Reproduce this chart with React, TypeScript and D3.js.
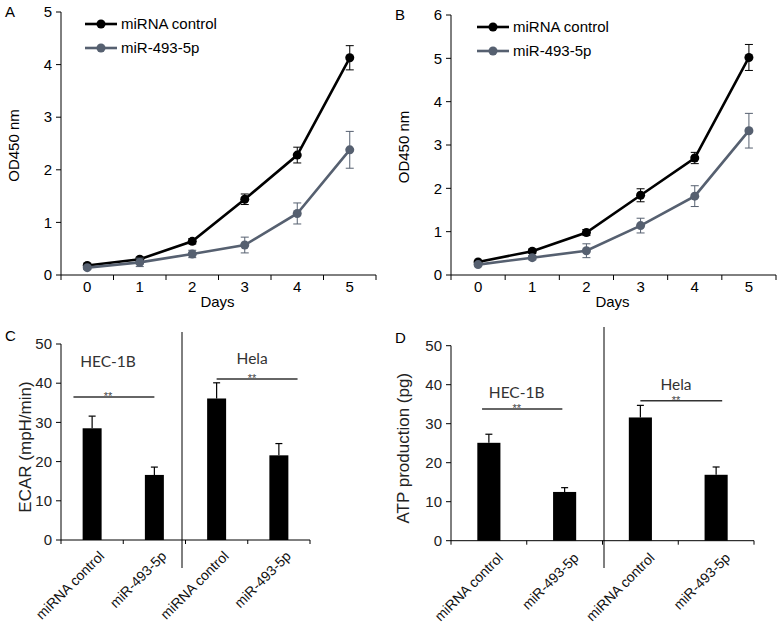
import * as d3 from 'd3'

// growth curves (OD450), days 0..5
const days = [0, 1, 2, 3, 4, 5]
const seriesNames = ['miRNA control', 'miR-493-5p']
const seriesColors = ['#000000', '#566070']

const aControl = [0.18, 0.3, 0.64, 1.44, 2.28, 4.13]
const aControlErr = [0.03, 0.04, 0.05, 0.1, 0.15, 0.23]
const aMir = [0.14, 0.24, 0.4, 0.57, 1.17, 2.38]
const aMirErr = [0.03, 0.08, 0.07, 0.15, 0.2, 0.35]

const bControl = [0.3, 0.55, 0.98, 1.84, 2.7, 5.02]
const bControlErr = [0.03, 0.05, 0.07, 0.15, 0.13, 0.3]
const bMir = [0.24, 0.4, 0.56, 1.14, 1.82, 3.33]
const bMirErr = [0.03, 0.05, 0.16, 0.17, 0.24, 0.4]

// bar panels
const barLabels = ['miRNA control', 'miR-493-5p', 'miRNA control', 'miR-493-5p']
const cellLines = ['HEC-1B', 'Hela']

const cValues = [28.5, 16.6, 36.1, 21.6]
const cErr = [3.1, 2.0, 4.0, 3.0]
const dValues = [25.1, 12.5, 31.6, 16.9]
const dErr = [2.2, 1.1, 3.1, 2.0]

const cTicks = [0, 10, 20, 30, 40, 50]
const dTicks = [0, 10, 20, 30, 40, 50]

// significance bars: bar indices, offsets in steps, y in data units, label position
const cSig = [
  { from: 0, to: 1, dx0: -0.3, dx1: 0, y: 36.5, labelPos: 0.755, labelY: 44.1 },
  { from: 2, to: 3, dx0: 0, dx1: 0.3, y: 41.1, labelPos: 3.07, labelY: 44.9 },
]
const dSig = [
  { from: 0, to: 1, dx0: -0.09, dx1: -0.03, y: 33.8, labelPos: 0.867, labelY: 36.6 },
  { from: 2, to: 3, dx0: 0, dx1: 0.08, y: 35.9, labelPos: 2.97, labelY: 38.6 },
]

const FONT = '"Liberation Sans", Arial, sans-serif'
const LABEL_FONT = 'Lato, "Open Sans", sans-serif'

function LinePanel({ letter, left, right, top, bottom, yMax, series, errs, legendX }: any) {
  const x = d3.scaleBand<number>().domain(days).range([left, right]).padding(0)
  const y = d3.scaleLinear().domain([0, yMax]).range([bottom, top])
  const cx = (d: number) => (x(d) as number) + x.bandwidth() / 2
  const line = d3.line<number>().x((_, i) => cx(days[i])).y(v => y(v))
  const bounds = d3.range(days.length + 1).map(i => left + i * x.step())
  const yTicks = d3.range(0, yMax + 1)
  const mid = (left + right) / 2

  return (
    <g>
      <text x={left - 56} y={top + 5} fontSize={15} fontFamily={FONT}>{letter}</text>
      {/* y axis */}
      <line x1={left} x2={left} y1={y(0)} y2={y(yMax)} stroke="#000" />
      {yTicks.map(t => (
        <g key={t}>
          <line x1={left - 5} x2={left} y1={y(t)} y2={y(t)} stroke="#000" />
          <text x={left - 9} y={y(t)} dy="0.35em" textAnchor="end" fontSize={15} fontFamily={FONT}>{t}</text>
        </g>
      ))}
      <text transform={`translate(${left - 47},${(top + bottom) / 2 + 2}) rotate(-90)`} textAnchor="middle"
        dy="0.35em" fontSize={15} fontFamily={FONT}>OD450 nm</text>
      {/* x axis */}
      <line x1={left} x2={right} y1={y(0)} y2={y(0)} stroke="#000" />
      {bounds.map((b, i) => (
        <line key={i} x1={b} x2={b} y1={y(0)} y2={y(0) + 5} stroke="#000" />
      ))}
      {days.map(d => (
        <text key={d} x={cx(d)} y={y(0) + 17} textAnchor="middle" fontSize={15} fontFamily={FONT}>{d}</text>
      ))}
      <text x={mid - 1} y={y(0) + 32} textAnchor="middle" fontSize={15} fontFamily={FONT}>Days</text>
      {/* series */}
      {series.map((vals: number[], si: number) => (
        <g key={si}>
          {vals.map((v, i) => {
            const e = errs[si][i]
            const px = cx(days[i])
            return (
              <g key={i} stroke={seriesColors[si]} strokeWidth={1}>
                <line x1={px} x2={px} y1={y(v - e)} y2={y(v + e)} />
                <line x1={px - 4} x2={px + 4} y1={y(v - e)} y2={y(v - e)} />
                <line x1={px - 4} x2={px + 4} y1={y(v + e)} y2={y(v + e)} />
              </g>
            )
          })}
          <path d={line(vals) as string} fill="none" stroke={seriesColors[si]} strokeWidth={2.6} />
          {vals.map((v, i) => (
            <circle key={i} cx={cx(days[i])} cy={y(v)} r={4.5} fill={seriesColors[si]} />
          ))}
        </g>
      ))}
      {/* legend */}
      {seriesNames.map((n, si) => {
        const ly = top + 12 + si * 24
        return (
          <g key={n}>
            <line x1={legendX} x2={legendX + 32} y1={ly} y2={ly} stroke={seriesColors[si]} strokeWidth={2.6} />
            <circle cx={legendX + 16} cy={ly} r={4.5} fill={seriesColors[si]} />
            <text x={legendX + 36} y={ly} dy="0.35em" fontSize={15} fontFamily={FONT}>{n}</text>
          </g>
        )
      })}
    </g>
  )
}

function BarPanel({ letter, left, right, top, bottom, values, errs, ticks, yLabel, sig, divider, yLabelX, labelDx, labelDy }: any) {
  const idx = values.map((_: number, i: number) => i)
  const x = d3.scaleBand<number>().domain(idx).range([left, right]).padding(0)
  const y = d3.scaleLinear().domain([0, 50]).range([bottom, top])
  const step = x.step()
  const bw = step * 0.305
  const cx = (i: number) => (x(i) as number) + step / 2
  const bounds = d3.range(idx.length + 1).map(i => left + i * step)
  const divX = left + 2 * step + divider.dx

  return (
    <g>
      <text x={left - 56} y={top - 3} fontSize={15} fontFamily={FONT}>{letter}</text>
      {/* y axis */}
      <line x1={left} x2={left} y1={y(0)} y2={y(50)} stroke="#000" />
      {ticks.map((t: number) => (
        <g key={t}>
          <line x1={left - 5} x2={left} y1={y(t)} y2={y(t)} stroke="#000" />
          <text x={left - 9} y={y(t)} dy="0.35em" textAnchor="end" fontSize={15} fontFamily={FONT} fill="#222">{t}</text>
        </g>
      ))}
      <text transform={`translate(${yLabelX},${(top + bottom) / 2 + 5}) rotate(-90)`} textAnchor="middle"
        dy="0.35em" fontSize={17} fontFamily={FONT} fill="#222">{yLabel}</text>
      {/* x axis */}
      <line x1={left} x2={right} y1={y(0)} y2={y(0)} stroke="#000" />
      {bounds.map((b, i) => (
        <line key={i} x1={b} x2={b} y1={y(0)} y2={y(0) + 4} stroke="#000" />
      ))}
      {/* divider */}
      <line x1={divX} x2={divX} y1={divider.y1} y2={divider.y2} stroke="#000" />
      {/* bars */}
      {values.map((v: number, i: number) => (
        <g key={i}>
          <rect x={cx(i) - bw / 2} y={y(v)} width={bw} height={y(0) - y(v)} fill="#000" />
          <line x1={cx(i)} x2={cx(i)} y1={y(v)} y2={y(v + errs[i])} stroke="#000" strokeWidth={1.2} />
          <line x1={cx(i) - 3.5} x2={cx(i) + 3.5} y1={y(v + errs[i])} y2={y(v + errs[i])} stroke="#000" strokeWidth={1.2} />
          <text transform={`translate(${cx(i) + labelDx},${y(0) + labelDy}) rotate(-45)`} textAnchor="end"
            fontSize={14} fontFamily={FONT} fill="#111">{barLabels[i]}</text>
        </g>
      ))}
      {/* significance */}
      {sig.map((s: any, k: number) => {
        const lx = left + s.labelPos * step
        return (
          <g key={k}>
            <line x1={cx(s.from) + s.dx0 * step} x2={cx(s.to) + s.dx1 * step} y1={y(s.y)} y2={y(s.y)}
              stroke="#333" strokeWidth={1.5} />
            <text x={lx} y={y(s.y) + 3} textAnchor="middle" fontSize={11} fontFamily={FONT} fill="#444">**</text>
            <text x={lx} y={y(s.labelY)} textAnchor="middle" fontSize={15.5} fontFamily={LABEL_FONT} fill="#333">{cellLines[k]}</text>
          </g>
        )
      })}
    </g>
  )
}

export default function App() {
  return (
    <svg width={782} height={627} viewBox="0 0 782 627"
      style={{ position: 'absolute', left: 0, top: 0, background: '#fff' }}>
      <rect width={782} height={627} fill="#fff" />
      <LinePanel letter="A" left={61} right={376} top={12} bottom={275} yMax={5}
        series={[aControl, aMir]} errs={[aControlErr, aMirErr]} legendX={85} />
      <LinePanel letter="B" left={451} right={776} top={15} bottom={275} yMax={6}
        series={[bControl, bMir]} errs={[bControlErr, bMirErr]} legendX={477} />
      <BarPanel letter="C" left={61} right={310} top={344} bottom={540} values={cValues} errs={cErr}
        ticks={cTicks} yLabel="ECAR (mpH/min)" sig={cSig} divider={{ dx: -3.5, y1: 332, y2: 568 }}
        yLabelX={25} labelDx={13} labelDy={17} />
      <BarPanel letter="D" left={451} right={754} top={345.7} bottom={540.7} values={dValues} errs={dErr}
        ticks={dTicks} yLabel="ATP production (pg)" sig={dSig} divider={{ dx: 1.5, y1: 327, y2: 568 }}
        yLabelX={403} labelDx={15} labelDy={18} />
    </svg>
  )
}
